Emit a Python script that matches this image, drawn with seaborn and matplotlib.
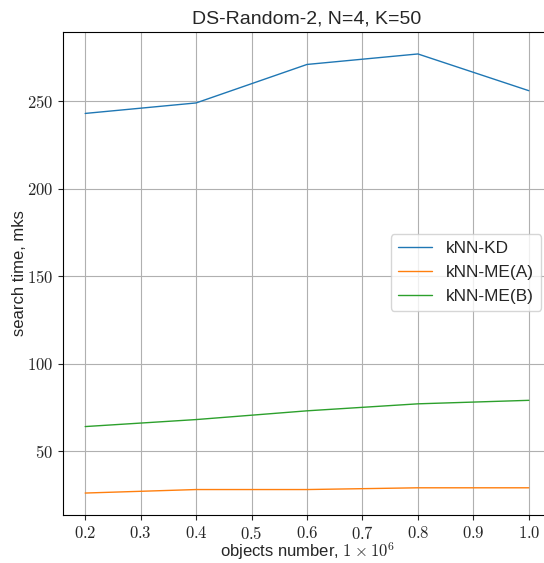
import matplotlib
matplotlib.use("Agg")
import matplotlib.pyplot as plt
import seaborn as sns
import pandas as pd
from matplotlib.ticker import FuncFormatter

objects = [0.2, 0.4, 0.6, 0.8, 1.0]
knn_kd = [243, 249, 271, 277, 256]
knn_me_a = [26, 28, 28, 29, 29]
knn_me_b = [64, 68, 73, 77, 79]

df = pd.DataFrame({
    "objects": objects * 3,
    "time": knn_kd + knn_me_a + knn_me_b,
    "method": ["kNN-KD"] * 5 + ["kNN-ME(A)"] * 5 + ["kNN-ME(B)"] * 5,
})

sns.set_style("ticks")
plt.rcParams["font.family"] = ["Liberation Sans", "DejaVu Sans"]
plt.rcParams["mathtext.fontset"] = "cm"

fig = plt.figure(figsize=(5.44, 5.63), dpi=100)
# the right spine sits past the image edge in the reference
ax = fig.add_axes([63 / 544, 48 / 563, 488 / 544, 483 / 563])

sns.lineplot(data=df, x="objects", y="time", hue="method",
             palette=["#1f77b4", "#ff7f0e", "#2ca02c"], linewidth=1.0, ax=ax)

ax.grid(True, color="#b0b0b0", linewidth=0.8)
ax.set_xticks([0.2, 0.3, 0.4, 0.5, 0.6, 0.7, 0.8, 0.9, 1.0])
ax.set_yticks([50, 100, 150, 200, 250])
ax.xaxis.set_major_formatter(FuncFormatter(lambda v, p: f"${v:.1f}$"))
ax.yaxis.set_major_formatter(FuncFormatter(lambda v, p: f"${v:.0f}$"))
ax.tick_params(labelsize=12)
for s in ax.spines.values():
    s.set_color("black")
    s.set_linewidth(0.8)

ax.set_title("DS-Random-2, N=4, K=50", fontsize=14)
ax.set_xlabel(r"objects number, $1\times10^6$", fontsize=12, labelpad=-1)
ax.set_ylabel("search time, mks", fontsize=12, labelpad=0)
ax.legend(loc="center right", fontsize=12.4, title=None,
          bbox_to_anchor=(541 / 544, 1 - 272.5 / 563),
          bbox_transform=fig.transFigure, borderaxespad=0)

fig.savefig("out.png", dpi=100)
